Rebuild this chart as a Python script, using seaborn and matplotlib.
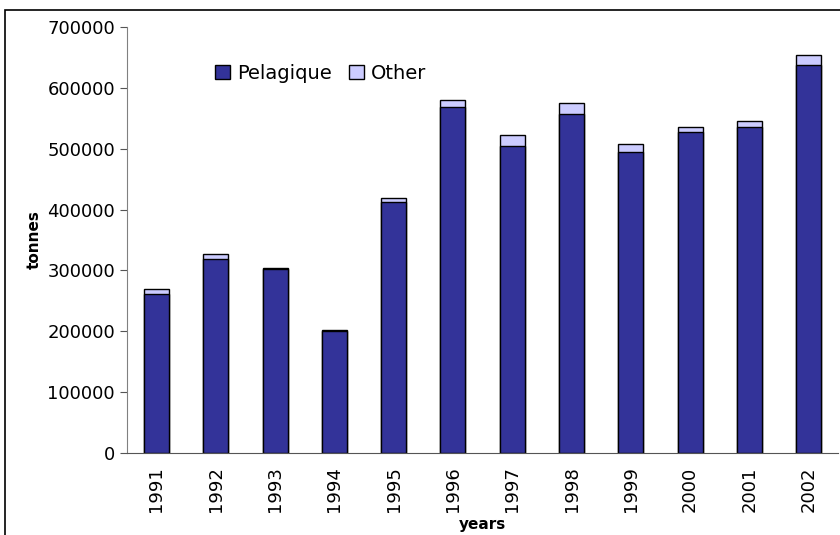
import numpy as np
import pandas as pd
import matplotlib
matplotlib.use("Agg")
import matplotlib.pyplot as plt
from matplotlib.patches import Rectangle
import seaborn as sns

years = ["1991", "1992", "1993", "1994", "1995", "1996",
         "1997", "1998", "1999", "2000", "2001", "2002"]
pelagique = [261500, 318000, 301600, 200500, 412000, 569000,
             505000, 557500, 494000, 527000, 536000, 638000]
other = [7000, 8500, 2400, 1000, 6500, 11000,
         17000, 18500, 14000, 9000, 10000, 16000]

df = pd.DataFrame({"year": years, "Pelagique": pelagique, "Other": other})
df["total"] = df["Pelagique"] + df["Other"]

sns.set_style("white")
plt.rcParams["font.family"] = ["DejaVu Sans"]
plt.rcParams["text.color"] = "black"
plt.rcParams["axes.labelcolor"] = "black"
plt.rcParams["xtick.color"] = "black"
plt.rcParams["ytick.color"] = "black"

fig = plt.figure(figsize=(8.4, 5.35), dpi=100)
ax = fig.add_axes([0.151, 0.154, 0.847, 0.795])

dark = "#333399"
light = "#CCCCFF"

sns.barplot(data=df, x="year", y="total", color=light, width=0.42,
            edgecolor="black", linewidth=1, saturation=1, ax=ax, label="Other")
sns.barplot(data=df, x="year", y="Pelagique", color=dark, width=0.42,
            edgecolor="black", linewidth=1, saturation=1, ax=ax, label="Pelagique")

ax.set_xlim(-0.5, len(years) - 0.5)
ax.set_ylim(0, 700000)
ax.set_yticks(np.arange(0, 700001, 100000))
ax.set_yticklabels([str(v) for v in range(0, 700001, 100000)], fontsize=13)
ax.set_xticks(range(len(years)))
ax.set_xticklabels(years, rotation=90, fontsize=13)
ax.set_xticks(np.arange(-0.5, len(years), 1), minor=True)
ax.tick_params(axis="x", which="major", length=0, pad=10)
ax.tick_params(axis="x", which="minor", length=5, color="#555555", direction="out")
ax.tick_params(axis="y", length=5, color="#555555", direction="out", left=True)

for s in ["top", "right"]:
    ax.spines[s].set_visible(False)
ax.spines["left"].set_color("#808080")
ax.spines["bottom"].set_color("#555555")

ax.set_xlabel("years", fontsize=11, fontweight="bold", labelpad=3)
ax.set_ylabel("tonnes", fontsize=11, fontweight="bold", labelpad=4)

handles, labels = ax.get_legend_handles_labels()
order = [labels.index("Pelagique"), labels.index("Other")]
ax.legend([handles[i] for i in order], [labels[i] for i in order],
          loc="upper left", bbox_to_anchor=(0.1, 0.955), ncol=2, frameon=False,
          fontsize=14, handlelength=0.75, handleheight=0.75, handletextpad=0.35,
          columnspacing=0.9)

fig.patches.append(Rectangle((5 / 840, -0.1), 2.0, 1.1 - 10 / 535,
                             transform=fig.transFigure, fill=False,
                             edgecolor="black", linewidth=1.2))

fig.savefig("out.png", dpi=100)
